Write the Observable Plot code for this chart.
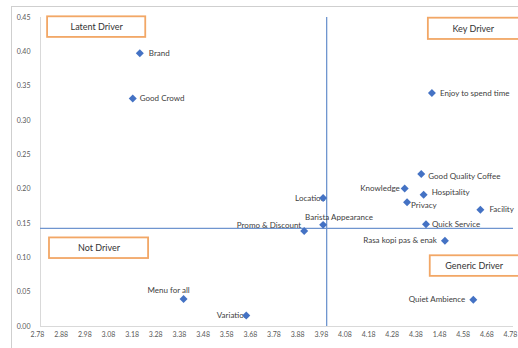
<!DOCTYPE html>
<html>
<head>
<meta charset="utf-8">
<script src="https://cdn.jsdelivr.net/npm/d3@7"></script>
<script src="https://cdn.jsdelivr.net/npm/@observablehq/plot@0.6"></script>
<style>
  html, body { margin: 0; padding: 0; background: #fff; overflow: hidden; }
  #frame {
    position: absolute; left: 11px; top: 6px; width: 600px; height: 400px;
    border: 1px solid #cfcfcf; box-sizing: border-box;
  }
  #chart { position: absolute; left: 0; top: 0; }
</style>
</head>
<body>
<div id="frame"></div>
<div id="chart"></div>
<script>
// Attribute names with performance (x) and importance (y)
const attributes = [
  "Brand", "Good Crowd", "Enjoy to spend time", "Good Quality Coffee",
  "Knowledge", "Hospitality", "Privacy", "Facility", "Quick Service",
  "Location", "Barista Appearance", "Promo & Discount",
  "Rasa kopi pas & enak", "Quiet Ambience", "Menu for all", "Variation"
];
const performance = [
  3.20, 3.17, 4.435, 4.39,
  4.32, 4.40, 4.33, 4.64, 4.41,
  3.975, 3.975, 3.895,
  4.49, 4.61, 3.385, 3.65
];
const importance = [
  0.398, 0.332, 0.340, 0.222,
  0.201, 0.192, 0.181, 0.170, 0.149,
  0.187, 0.148, 0.139,
  0.125, 0.039, 0.040, 0.016
];

// Quadrant split values
const performanceCut = 3.99;
const importanceCut = 0.143;

// Axis ticks
const xTicks = [2.78, 2.88, 2.98, 3.08, 3.18, 3.28, 3.38, 3.48, 3.58, 3.68,
  3.78, 3.88, 3.98, 4.08, 4.18, 4.28, 4.38, 4.48, 4.58, 4.68, 4.78];
const xTickLabels = ["2.78", "2.88", "2.98", "3.08", "3.18", "3.28", "3.38", "3.48", "3.58", "3.68",
  "3.78", "3.88", "3.98", "4.08", "4.18", "4.28", "4.38", "1.48", "4.58", "4.68", "4.78"];
const yTicks = [0, 0.05, 0.10, 0.15, 0.20, 0.25, 0.30, 0.35, 0.40, 0.45];

// Quadrant names
const quadrantNames = ["Latent Driver", "Key Driver", "Not Driver", "Generic Driver"];

const points = attributes.map((name, i) => ({name, x: performance[i], y: importance[i]}));

// Label placement around each marker
const labelPlacement = {
  "Brand": {anchor: "start", dx: 9, dy: 0},
  "Good Crowd": {anchor: "start", dx: 7, dy: 0},
  "Enjoy to spend time": {anchor: "start", dx: 8, dy: 0},
  "Good Quality Coffee": {anchor: "start", dx: 7, dy: 2},
  "Knowledge": {anchor: "end", dx: -5, dy: 0},
  "Hospitality": {anchor: "start", dx: 8, dy: -2},
  "Privacy": {anchor: "start", dx: 4, dy: 3},
  "Facility": {anchor: "start", dx: 9, dy: 0},
  "Quick Service": {anchor: "start", dx: 6, dy: 0},
  "Location": {anchor: "end", dx: 2, dy: 0},
  "Barista Appearance": {anchor: "start", dx: -18, dy: -7},
  "Promo & Discount": {anchor: "end", dx: -3, dy: -6},
  "Rasa kopi pas & enak": {anchor: "end", dx: -8, dy: 0},
  "Quiet Ambience": {anchor: "end", dx: -8, dy: 0},
  "Menu for all": {anchor: "middle", dx: -15, dy: -9},
  "Variation": {anchor: "end", dx: 2, dy: 0}
};

// Quadrant name boxes, in data units
const xMin = xTicks[0], xMax = xTicks[xTicks.length - 1];
const yMax = yTicks[yTicks.length - 1];
const boxes = [
  {name: quadrantNames[0], x1: xMin + 0.03, x2: xMin + 0.445, y1: yMax + 0.001, y2: yMax - 0.029},
  {name: quadrantNames[1], x1: xMax - 0.36, x2: xMax + 0.05, y1: yMax - 0.001, y2: yMax - 0.032},
  {name: quadrantNames[2], x1: xMin + 0.038, x2: xMin + 0.457, y1: importanceCut - 0.014, y2: importanceCut - 0.044},
  {name: quadrantNames[3], x1: xMax - 0.352, x2: xMax + 0.05, y1: importanceCut - 0.040, y2: importanceCut - 0.070}
];

// One text mark per attribute so each label can sit on its own side
const labelMarks = points.map(d => {
  const p = labelPlacement[d.name];
  return Plot.text([d], {
    x: "x", y: "y", text: "name",
    textAnchor: p.anchor, dx: p.dx, dy: p.dy,
    fill: "#404040", fontSize: 8
  });
});

const chart = Plot.plot({
  width: 518,
  height: 348,
  marginLeft: 40,
  marginRight: 5,
  marginTop: 17,
  marginBottom: 22,
  style: {background: "transparent", fontFamily: "Lato, 'Open Sans', sans-serif"},
  x: {domain: [xMin, xMax]},
  y: {domain: [0, yMax]},
  marks: [
    Plot.axisX({ticks: xTicks, tickFormat: d => xTickLabels[xTicks.indexOf(d)], tickSize: 0, tickPadding: 6, dx: -3, fontSize: 7, color: "#595959", label: null}),
    Plot.axisY({ticks: yTicks, tickFormat: d3.format(".2f"), tickSize: 0, tickPadding: 10, fontSize: 7, color: "#595959", label: null}),
    Plot.ruleY([0], {stroke: "#d9d9d9", strokeWidth: 1}),
    Plot.ruleX([xMin], {stroke: "#d9d9d9", strokeWidth: 1}),
    Plot.ruleX([performanceCut], {stroke: "#6f95cf", strokeWidth: 1.3}),
    Plot.ruleY([importanceCut], {stroke: "#6f95cf", strokeWidth: 1.3}),
    Plot.rect(boxes, {x1: "x1", x2: "x2", y1: "y1", y2: "y2", fill: "white", stroke: "#f2a766", strokeWidth: 1.8}),
    Plot.text(boxes, {x: d => (d.x1 + Math.min(d.x2, xMax + 0.02)) / 2, y: d => (d.y1 + d.y2) / 2, text: "name", fill: "#333", fontSize: 9}),
    ...labelMarks,
    Plot.dot(points, {x: "x", y: "y", symbol: "diamond2", r: 3.6, fill: "#4472c4", stroke: "none"})
  ]
});

document.getElementById("chart").appendChild(chart);
</script>
</body>
</html>
